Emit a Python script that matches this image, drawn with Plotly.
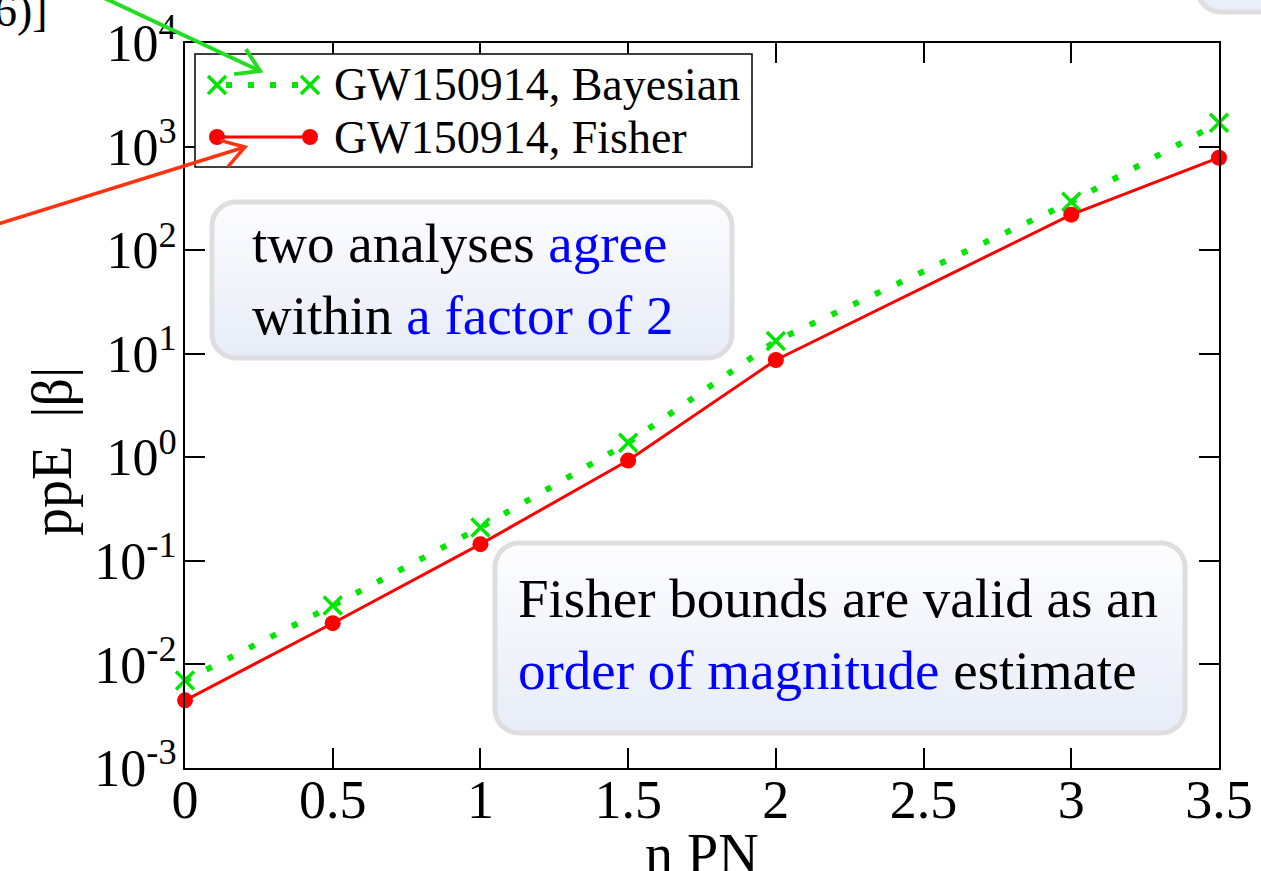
import math
import plotly.graph_objects as go

# ppE bound |beta| versus post-Newtonian order for GW150914
n_pn = [0, 0.5, 1, 1.5, 2, 3, 3.5]
beta_bayesian = [0.007, 0.037, 0.21, 1.38, 13.3, 293, 1700]
beta_fisher = [0.0045, 0.025, 0.145, 0.93, 8.7, 220, 780]

x_ticks = [0, 0.5, 1, 1.5, 2, 2.5, 3, 3.5]
x_tick_text = ["0", "0.5", "1", "1.5", "2", "2.5", "3", "3.5"]
y_exponents = [-3, -2, -1, 0, 1, 2, 3, 4]

label_bayesian = "GW150914, Bayesian"
label_fisher = "GW150914, Fisher"

GREEN = "#00e600"
RED = "#ff0000"
BLUE = "#0000ff"
FONT = "Times New Roman, Liberation Serif, serif"

W, H = 1261, 871
L, R, T, B = 185, 1219, 43, 768


def px(x):
    return (x - L) / (R - L)


def py(y):
    return (B - y) / (B - T)


fig = go.Figure()

fig.add_trace(go.Scatter(
    x=n_pn, y=beta_bayesian, mode="lines+markers", name=label_bayesian,
    line=dict(color=GREEN, width=6, dash="6px,18px"),
    marker=dict(symbol="x-thin", size=18, line=dict(color=GREEN, width=3.5)),
    cliponaxis=False,
))
fig.add_trace(go.Scatter(
    x=n_pn, y=beta_fisher, mode="lines+markers", name=label_fisher,
    line=dict(color=RED, width=3),
    marker=dict(symbol="circle", size=16, color=RED),
    cliponaxis=False,
))

shapes = []
annotations = []


def rounded_outline(x0, y0, x1, y1, r, steps=8):
    pts = []
    corners = [
        (x1 - r, y0 + r, -90, 0),
        (x1 - r, y1 - r, 0, 90),
        (x0 + r, y1 - r, 90, 180),
        (x0 + r, y0 + r, 180, 270),
    ]
    for cx, cy, a0, a1 in corners:
        for k in range(steps + 1):
            a = math.radians(a0 + (a1 - a0) * k / steps)
            pts.append((cx + r * math.cos(a), cy + r * math.sin(a)))
    return pts


def path_from(pts, close=True):
    s = "M " + " L ".join(f"{px(a):.5f},{py(b):.5f}" for a, b in pts)
    return s + (" Z" if close else "")


def mix(c0, c1, t):
    a = [int(c0[i:i + 2], 16) for i in (1, 3, 5)]
    b = [int(c1[i:i + 2], 16) for i in (1, 3, 5)]
    return "#" + "".join(f"{round(a[i] + (b[i] - a[i]) * t):02x}" for i in range(3))


def callout_box(x0, y0, x1, y1, r=24, top="#fdfdff", bottom="#e7ecf7", n=24):
    # vertical gradient made of thin strips clipped to the rounded outline
    def half_width_inset(y):
        if y < y0 + r:
            d = y0 + r - y
        elif y > y1 - r:
            d = y - (y1 - r)
        else:
            return 0.0
        d = min(d, r)
        return r - math.sqrt(max(r * r - d * d, 0.0))

    for i in range(n):
        ya = y0 + (y1 - y0) * i / n
        yb = y0 + (y1 - y0) * (i + 1) / n + 0.6
        yb = min(yb, y1)
        ys = [ya + (yb - ya) * k / 4 for k in range(5)]
        left = [(x0 + half_width_inset(y), y) for y in ys]
        right = [(x1 - half_width_inset(y), y) for y in reversed(ys)]
        col = mix(top, bottom, (i + 0.5) / n)
        shapes.append(dict(type="path", xref="paper", yref="paper",
                           path=path_from(left + right), fillcolor=col,
                           line=dict(width=0), layer="above"))
    shapes.append(dict(type="path", xref="paper", yref="paper",
                       path=path_from(rounded_outline(x0, y0, x1, y1, r)),
                       fillcolor="rgba(0,0,0,0)",
                       line=dict(color="#dedede", width=5), layer="above"))


def arrow(tail, tip, color, width, arm=26, spread=32):
    shapes.append(dict(type="line", xref="paper", yref="paper",
                       x0=px(tail[0]), y0=py(tail[1]), x1=px(tip[0]), y1=py(tip[1]),
                       line=dict(color=color, width=width), layer="above"))
    ang = math.atan2(tip[1] - tail[1], tip[0] - tail[0])
    pts = []
    for s in (1, -1):
        a = ang + math.pi - s * math.radians(spread)
        pts.append((tip[0] + arm * math.cos(a), tip[1] + arm * math.sin(a)))
    shapes.append(dict(type="path", xref="paper", yref="paper",
                       path=path_from([pts[0], tip, pts[1]], close=False),
                       fillcolor="rgba(0,0,0,0)",
                       line=dict(color=color, width=width), layer="above"))


# custom legend box
shapes.append(dict(type="rect", xref="paper", yref="paper",
                   x0=px(195), x1=px(752), y0=py(54), y1=py(167),
                   fillcolor="white", line=dict(color="black", width=1.5),
                   layer="above"))
# Bayesian sample: dotted line with crosses at both ends
shapes.append(dict(type="line", xref="paper", yref="paper",
                   x0=px(226), x1=px(302), y0=py(85), y1=py(85),
                   line=dict(color=GREEN, width=6, dash="6px,16px"), layer="above"))
for cx in (217, 310):
    for dy in (-1, 1):
        shapes.append(dict(type="line", xref="paper", yref="paper",
                           x0=px(cx - 9), x1=px(cx + 9), y0=py(85 - 9 * dy), y1=py(85 + 9 * dy),
                           line=dict(color=GREEN, width=3.5), layer="above"))
# Fisher sample: solid line with dots at both ends
shapes.append(dict(type="line", xref="paper", yref="paper",
                   x0=px(217), x1=px(310), y0=py(137), y1=py(137),
                   line=dict(color=RED, width=3), layer="above"))
for cx in (217, 310):
    shapes.append(dict(type="circle", xref="paper", yref="paper",
                       x0=px(cx - 8), x1=px(cx + 8), y0=py(137 - 8), y1=py(137 + 8),
                       fillcolor=RED, line=dict(color=RED, width=0), layer="above"))
for label, yy in ((label_bayesian, 85), (label_fisher, 137)):
    annotations.append(dict(xref="paper", yref="paper", x=px(332), y=py(yy),
                            xanchor="left", yanchor="middle", showarrow=False,
                            text=label, font=dict(family=FONT, size=46, color="black")))

# callout boxes
callout_box(212, 202, 732, 358)
callout_box(495, 543, 1185, 733)
callout_box(1197, -60, 1320, 12)

annotations.append(dict(
    xref="paper", yref="paper", x=px(250), y=py(279), xanchor="left", yanchor="middle",
    align="left", showarrow=False,
    text=f"two analyses <span style='color:{BLUE}'>agree</span><br>"
         f"within <span style='color:{BLUE}'>a factor of 2</span>",
    font=dict(family=FONT, size=55, color="black")))
annotations.append(dict(
    xref="paper", yref="paper", x=px(516), y=py(634), xanchor="left", yanchor="middle",
    align="left", showarrow=False,
    text=f"Fisher bounds are valid as an<br>"
         f"<span style='color:{BLUE}'>order of magnitude</span> estimate",
    font=dict(family=FONT, size=55, color="black")))

# pointer arrows from the surrounding text
arrow((100, -4), (260, 71), "#22dd22", 4)
arrow((-2, 224), (245, 147), "#ff3311", 3.5)
annotations.append(dict(xref="paper", yref="paper", x=px(50), y=py(10),
                        xanchor="right", yanchor="middle", showarrow=False,
                        text="6)]", font=dict(family=FONT, size=46, color="black")))

# axis titles
annotations.append(dict(xref="paper", yref="paper", x=px(702), y=py(854),
                        xanchor="center", yanchor="middle", showarrow=False,
                        text="n PN", font=dict(family=FONT, size=56, color="black")))
annotations.append(dict(xref="paper", yref="paper", x=px(52), y=py(452),
                        xanchor="center", yanchor="middle", showarrow=False, textangle=-90,
                        text="ppE  |β|", font=dict(family=FONT, size=56, color="black")))

fig.update_layout(
    width=W, height=H,
    margin=dict(l=L, r=W - R, t=T, b=H - B, pad=0, autoexpand=False),
    paper_bgcolor="white", plot_bgcolor="white",
    showlegend=False,
    font=dict(family=FONT, color="black"),
    shapes=shapes, annotations=annotations,
)
fig.update_xaxes(
    range=[0, 3.5], tickvals=x_ticks, ticktext=x_tick_text,
    ticks="inside", ticklen=20, tickwidth=2, tickcolor="black",
    showline=True, linecolor="black", linewidth=2, mirror="ticks",
    showgrid=False, zeroline=False, automargin=False,
    ticklabelstandoff=-17,
    tickfont=dict(family=FONT, size=54, color="black"),
)
fig.update_yaxes(
    type="log", range=[-3, 4],
    tickvals=[10.0 ** e for e in y_exponents],
    ticktext=[f"10<sup>{e}</sup>" for e in y_exponents],
    ticks="inside", ticklen=20, tickwidth=2, tickcolor="black",
    showline=True, linecolor="black", linewidth=2, mirror="ticks",
    showgrid=False, zeroline=False, automargin=False,
    ticklabelstandoff=-4,
    tickfont=dict(family=FONT, size=52, color="black"),
)

fig.write_html("out.html")
